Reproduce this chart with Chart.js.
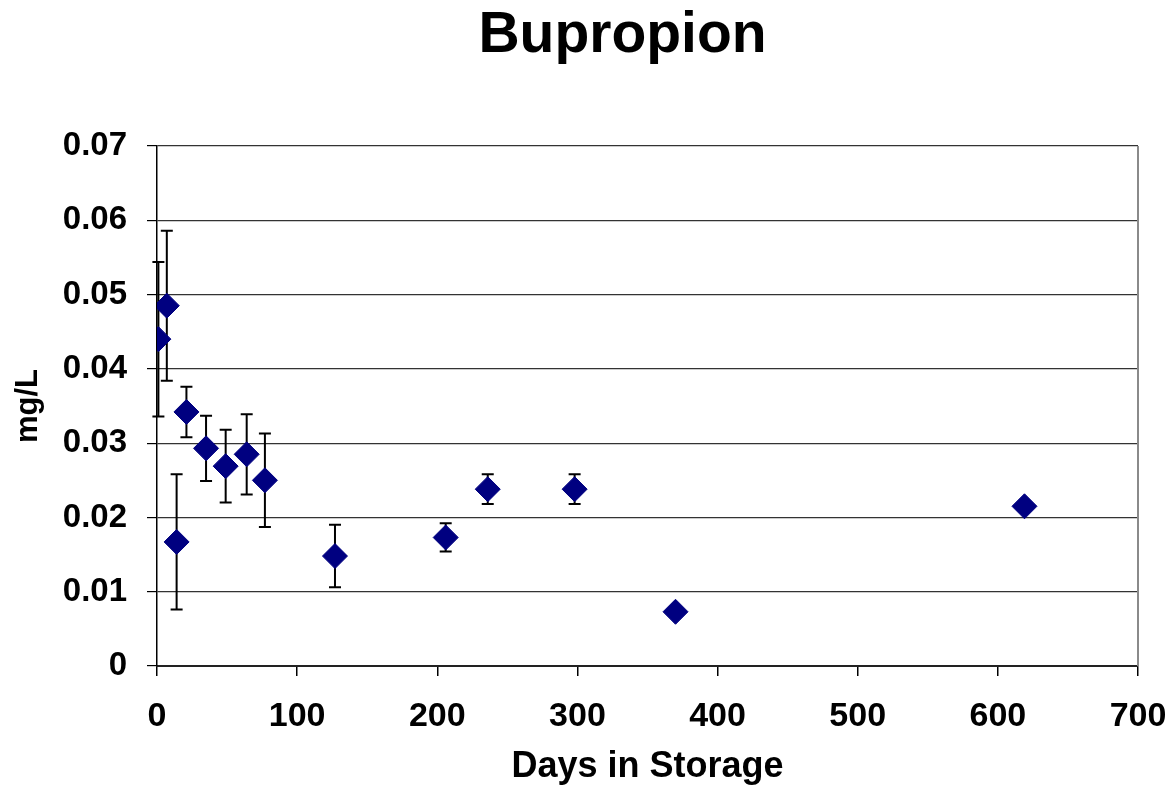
<!DOCTYPE html>
<html>
<head>
<meta charset="utf-8">
<script src="https://cdn.jsdelivr.net/npm/chart.js@4"></script>
<style>
  html, body { margin: 0; padding: 0; background: #ffffff; }
  #wrap { width: 1172px; height: 791px; }
</style>
</head>
<body>
<div id="wrap"><canvas id="c" width="1172" height="791"></canvas></div>
<script>
// ---- data ----
const chartTitle = 'Bupropion';
const xAxisTitle = 'Days in Storage';
const yAxisTitle = 'mg/L';
const days   = [1, 7, 14, 21, 35, 49, 64, 77, 127, 206, 236, 298, 370, 619];
const values = [0.0440, 0.0485, 0.0167, 0.0342, 0.0293, 0.0269, 0.0285, 0.0250, 0.0148, 0.0173, 0.0238, 0.0238, 0.0073, 0.0215];
const errors = [0.0104, 0.0101, 0.0091, 0.0034, 0.0044, 0.0049, 0.0054, 0.0063, 0.0042, 0.0019, 0.0020, 0.0020, 0, 0];
const xTickLabels = ['0', '100', '200', '300', '400', '500', '600', '700'];
const yTickLabels = ['0', '0.01', '0.02', '0.03', '0.04', '0.05', '0.06', '0.07'];

const FONT = "'Liberation Sans', Arial, Helvetica, sans-serif";

const points = days.map((d, i) => ({ x: d, y: values[i] }));

// error bars drawn through the library's scales, behind the markers
const errorBarPlugin = {
  id: 'errorBars',
  beforeDatasetsDraw(chart) {
    const { ctx, scales: { x, y } } = chart;
    ctx.save();
    ctx.strokeStyle = '#000000';
    ctx.lineWidth = 2;
    const cap = 6;
    days.forEach((d, i) => {
      if (!errors[i]) return;
      const px = x.getPixelForValue(d);
      const top = y.getPixelForValue(values[i] + errors[i]);
      const bot = y.getPixelForValue(values[i] - errors[i]);
      ctx.beginPath();
      ctx.moveTo(px, top); ctx.lineTo(px, bot);
      ctx.moveTo(px - cap, top); ctx.lineTo(px + cap, top);
      ctx.moveTo(px - cap, bot); ctx.lineTo(px + cap, bot);
      ctx.stroke();
    });
    ctx.restore();
  }
};

// chart title and right frame of the plot area
const framePlugin = {
  id: 'frameTitle',
  afterDraw(chart) {
    const { ctx, chartArea } = chart;
    ctx.save();
    ctx.strokeStyle = '#8a8a8a';
    ctx.lineWidth = 2;
    ctx.beginPath();
    ctx.moveTo(chartArea.right, chartArea.top);
    ctx.lineTo(chartArea.right, chartArea.bottom);
    ctx.stroke();
    ctx.fillStyle = '#000000';
    ctx.font = 'bold 57px ' + FONT;
    ctx.textAlign = 'center';
    ctx.textBaseline = 'alphabetic';
    ctx.fillText(chartTitle, (chartArea.left + chartArea.right) / 2 - 25, 52);
    ctx.restore();
  }
};

new Chart(document.getElementById('c'), {
  type: 'scatter',
  data: {
    datasets: [{
      data: points,
      pointStyle: 'rectRot',
      pointRadius: 12.5,
      pointHoverRadius: 12.5,
      backgroundColor: '#000080',
      borderColor: '#000080',
      borderWidth: 1,
      showLine: false
    }]
  },
  options: {
    responsive: false,
    animation: false,
    layout: { padding: { top: 146, right: 34, bottom: 0, left: 0 } },
    plugins: {
      legend: { display: false },
      title: { display: false },
      tooltip: { enabled: false }
    },
    scales: {
      x: {
        type: 'linear',
        min: 0, max: 700,
        afterFit(scale) {
          scale.height = 125;
          scale.paddingLeft = 0;
          scale.paddingRight = 0;
        },
        ticks: {
          stepSize: 100,
          autoSkip: false,
          maxRotation: 0,
          padding: 20,
          color: '#000000',
          font: { family: FONT, size: 34, weight: 'bold' },
          callback: (v) => xTickLabels[Math.round(v / 100)]
        },
        grid: {
          drawOnChartArea: false,
          drawTicks: true,
          tickLength: 10,
          tickColor: '#000000',
          color: '#000000',
          lineWidth: 1.5
        },
        border: { display: true, color: '#222222', width: 2 },
        title: {
          display: true,
          text: xAxisTitle,
          color: '#000000',
          font: { family: FONT, size: 36, weight: 'bold' },
          padding: { top: 0, bottom: 2 }
        }
      },
      y: {
        type: 'linear',
        min: 0, max: 0.07,
        afterFit(scale) { scale.width = 157; },
        ticks: {
          stepSize: 0.01,
          autoSkip: false,
          padding: 20,
          color: '#000000',
          font: { family: FONT, size: 33, weight: 'bold' },
          callback: (v) => yTickLabels[Math.round(v * 100)]
        },
        grid: {
          drawOnChartArea: true,
          drawTicks: true,
          tickLength: 10,
          color: '#333333',
          tickColor: '#000000',
          lineWidth: 1.2
        },
        border: { display: true, color: '#000000', width: 1.5 },
        title: {
          display: true,
          text: yAxisTitle,
          color: '#000000',
          font: { family: FONT, size: 31, weight: 'bold' },
          padding: { top: 10, bottom: 0 }
        }
      }
    }
  },
  plugins: [errorBarPlugin, framePlugin]
});
</script>
</body>
</html>
